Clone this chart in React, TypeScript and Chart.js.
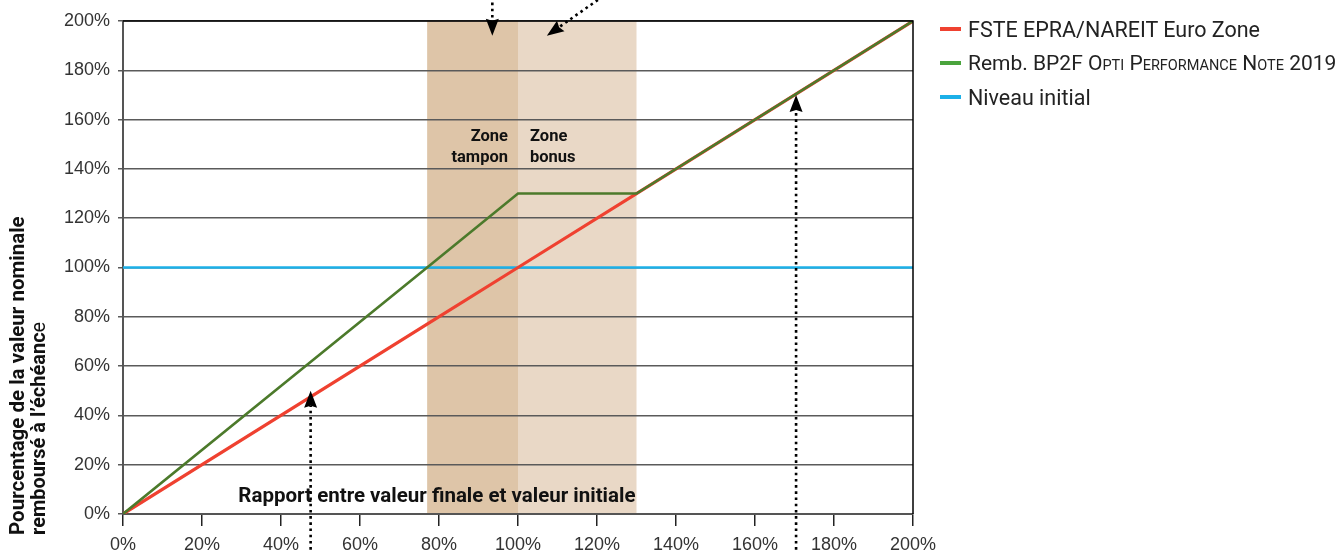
import React, { useEffect, useRef } from 'react';
import { Chart, registerables } from 'chart.js';

Chart.register(...registerables);

// ---- data ----
const ratioPoints = [0, 77, 100, 130, 200]; // rapport entre valeur finale et valeur initiale (%)
const fsteValues = [0, 77, 100, 130, 200];
const rembValues = [0, 100, 130, 130, 200];
const niveauValues = [100, 100, 100, 100, 100];
const xTickValues = [0, 20, 40, 60, 80, 100, 120, 140, 160, 180, 200];
const yTickValues = [0, 20, 40, 60, 80, 100, 120, 140, 160, 180, 200];
const zoneTampon = [77, 100];
const zoneBonus = [100, 130];
// arrows in data units: [tailX, tailY, tipX, tipY]
const arrowList = [
  [47.5, -17, 47.5, 50],
  [170.4, -17, 170.4, 170],
  [93.5, 210, 93.5, 194],
  [121.5, 210, 107.3, 194],
];

const SANS = 'Roboto, "Noto Sans", sans-serif';
const TICKFONT = '"Liberation Sans", Arial, sans-serif';

const RED = '#ef4130';
const GREEN = '#4c7a2b';
const BLUE = '#1cb0e8';

function drawArrow(ctx: CanvasRenderingContext2D, x1: number, y1: number, x2: number, y2: number) {
  const ang = Math.atan2(y2 - y1, x2 - x1);
  const headLen = 17;
  const headW = 6.5;
  const bx = x2 - Math.cos(ang) * headLen;
  const by = y2 - Math.sin(ang) * headLen;
  ctx.save();
  ctx.strokeStyle = '#000';
  ctx.lineWidth = 2.6;
  ctx.setLineDash([2.6, 3.6]);
  ctx.beginPath();
  ctx.moveTo(x1, y1);
  ctx.lineTo(bx + Math.cos(ang) * 2, by + Math.sin(ang) * 2);
  ctx.stroke();
  ctx.setLineDash([]);
  ctx.fillStyle = '#000';
  const px = -Math.sin(ang);
  const py = Math.cos(ang);
  const nx = x2 - Math.cos(ang) * (headLen - 2);
  const ny = y2 - Math.sin(ang) * (headLen - 2);
  ctx.beginPath();
  ctx.moveTo(x2, y2);
  ctx.lineTo(bx + px * headW, by + py * headW);
  ctx.lineTo(nx, ny);
  ctx.lineTo(bx - px * headW, by - py * headW);
  ctx.closePath();
  ctx.fill();
  ctx.restore();
}

const decorPlugin = {
  id: 'decor',
  beforeDraw(chart: any) {
    const { ctx } = chart;
    const xs = chart.scales.x;
    const ys = chart.scales.y;
    const top = ys.getPixelForValue(200);
    const bottom = ys.getPixelForValue(0);
    ctx.save();
    ctx.fillStyle = '#dec5a8';
    const t0 = xs.getPixelForValue(zoneTampon[0]);
    const t1 = xs.getPixelForValue(zoneTampon[1]);
    ctx.fillRect(t0, top, t1 - t0, bottom - top);
    ctx.fillStyle = '#e9d8c6';
    const b0 = xs.getPixelForValue(zoneBonus[0]);
    const b1 = xs.getPixelForValue(zoneBonus[1]);
    ctx.fillRect(b0, top, b1 - b0, bottom - top);
    ctx.restore();
  },
  afterDraw(chart: any) {
    const { ctx } = chart;
    const xs = chart.scales.x;
    const ys = chart.scales.y;
    const left = xs.getPixelForValue(0);
    const right = xs.getPixelForValue(200);
    const top = ys.getPixelForValue(200);
    const bottom = ys.getPixelForValue(0);
    ctx.save();
    // border top/right
    ctx.strokeStyle = '#000';
    ctx.lineWidth = 1.5;
    ctx.beginPath();
    ctx.moveTo(left, top);
    ctx.lineTo(right, top);
    ctx.lineTo(right, bottom);
    ctx.stroke();

    // zone labels
    ctx.fillStyle = '#111';
    ctx.font = `bold 16.5px ${SANS}`;
    ctx.textBaseline = 'middle';
    const tEnd = xs.getPixelForValue(zoneTampon[1]) - 10;
    const bStart = xs.getPixelForValue(zoneBonus[0]) + 12;
    ctx.textAlign = 'right';
    ctx.fillText('Zone', tEnd, 137);
    ctx.fillText('tampon', tEnd, 158);
    ctx.textAlign = 'left';
    ctx.fillText('Zone', bStart, 137);
    ctx.fillText('bonus', bStart, 158);

    // x axis title inside plot
    ctx.font = `bold 20.5px ${SANS}`;
    ctx.textAlign = 'right';
    ctx.fillText('Rapport entre valeur finale et valeur initiale', xs.getPixelForValue(zoneBonus[1]) - 1, 497);

    // y axis title (rotated)
    ctx.save();
    ctx.translate(19, 535);
    ctx.rotate(-Math.PI / 2);
    ctx.textAlign = 'left';
    ctx.font = `bold 20.5px ${SANS}`;
    ctx.fillText('Pourcentage de la valeur nominale', 0, 0);
    ctx.font = `bold 20px ${SANS}`;
    const l2 = 'remboursé à l\u2019échéanc';
    ctx.fillText(l2, 0, 21);
    const w2 = ctx.measureText(l2).width;
    ctx.font = `20px ${SANS}`;
    ctx.fillText('e', w2, 21);
    ctx.restore();

    // arrows
    for (const a of arrowList) {
      drawArrow(
        ctx,
        xs.getPixelForValue(a[0]),
        ys.getPixelForValue(a[1]),
        xs.getPixelForValue(a[2]),
        ys.getPixelForValue(a[3])
      );
    }
    ctx.restore();
  },
};

const SC = (t: string) => <span style={{ fontSize: 14.5 }}>{t}</span>;

const legendItems = [
  { color: RED, size: 21.5, label: <>FSTE EPRA/NAREIT Euro Zone</> },
  {
    color: '#4aa43d',
    size: 21,
    label: (
      <>
        Remb. BP2F O{SC('PTI')} P{SC('ERFORMANCE')} N{SC('OTE')} 2019
      </>
    ),
  },
  { color: BLUE, size: 21.5, label: <>Niveau initial</> },
];

export default function App() {
  const ref = useRef<HTMLCanvasElement | null>(null);
  useEffect(() => {
    document.body.style.margin = '0';
    const canvas = ref.current;
    if (!canvas) return;
    const mk = (vals: number[]) => ratioPoints.map((x, i) => ({ x, y: vals[i] }));
    const chart = new Chart(canvas, {
      type: 'line',
      data: {
        datasets: [
          {
            label: 'Remb. BP2F Opti Performance Note 2019',
            data: mk(rembValues),
            borderColor: GREEN,
            borderWidth: 2.6,
            pointRadius: 0,
            order: 0,
          },
          {
            label: 'FSTE EPRA/NAREIT Euro Zone',
            data: mk(fsteValues),
            borderColor: RED,
            borderWidth: 3.2,
            pointRadius: 0,
            order: 1,
          },
          {
            label: 'Niveau initial',
            data: mk(niveauValues),
            borderColor: BLUE,
            borderWidth: 2.6,
            pointRadius: 0,
            order: 2,
          },
        ],
      },
      options: {
        animation: false,
        responsive: false,
        maintainAspectRatio: false,
        layout: { padding: { left: 0, right: 425, top: 21, bottom: 0 } },
        plugins: { legend: { display: false }, tooltip: { enabled: false } },
        elements: { line: { tension: 0 } },
        scales: {
          x: {
            type: 'linear',
            min: 0,
            max: 200,
            afterFit: (s: any) => {
              s.height = 39;
            },
            afterBuildTicks: (s: any) => {
              s.ticks = xTickValues.map((v) => ({ value: v }));
            },
            ticks: {
              callback: (v: any) => `${v}%`,
              font: { family: TICKFONT, size: 18 },
              color: '#333',
              padding: 8,
              maxRotation: 0,
            },
            grid: {
              drawOnChartArea: false,
              drawTicks: true,
              tickLength: 12,
              color: '#222',
              lineWidth: 1.5,
            },
            border: { color: '#555', width: 2 },
          },
          y: {
            type: 'linear',
            min: 0,
            max: 200,
            afterFit: (s: any) => {
              s.width = 123;
            },
            afterBuildTicks: (s: any) => {
              s.ticks = yTickValues.map((v) => ({ value: v }));
            },
            ticks: {
              callback: (v: any) => `${v}%`,
              font: { family: TICKFONT, size: 18 },
              color: '#333',
              padding: 8,
            },
            grid: {
              color: '#5a5a5a',
              lineWidth: 1.5,
              tickLength: 5,
            },
            border: { color: '#555', width: 2 },
          },
        },
      },
      plugins: [decorPlugin],
    } as any);
    return () => chart.destroy();
  }, []);

  return (
    <div style={{ position: 'fixed', left: 0, top: 0, width: 1338, height: 553, background: '#fff', overflow: 'hidden' }}>
      <canvas ref={ref} width={1338} height={553} style={{ position: 'absolute', left: 0, top: 0 }} />
      <div style={{ position: 'absolute', left: 940, top: 12, fontFamily: SANS, color: '#222' }}>
        {legendItems.map((it, i) => (
          <div key={i} style={{ display: 'flex', alignItems: 'center', height: 34, whiteSpace: 'nowrap', fontSize: it.size }}>
            <span style={{ display: 'inline-block', width: 21, height: 4, background: it.color, marginRight: 7, flex: 'none' }} />
            <span>{it.label}</span>
          </div>
        ))}
      </div>
    </div>
  );
}
